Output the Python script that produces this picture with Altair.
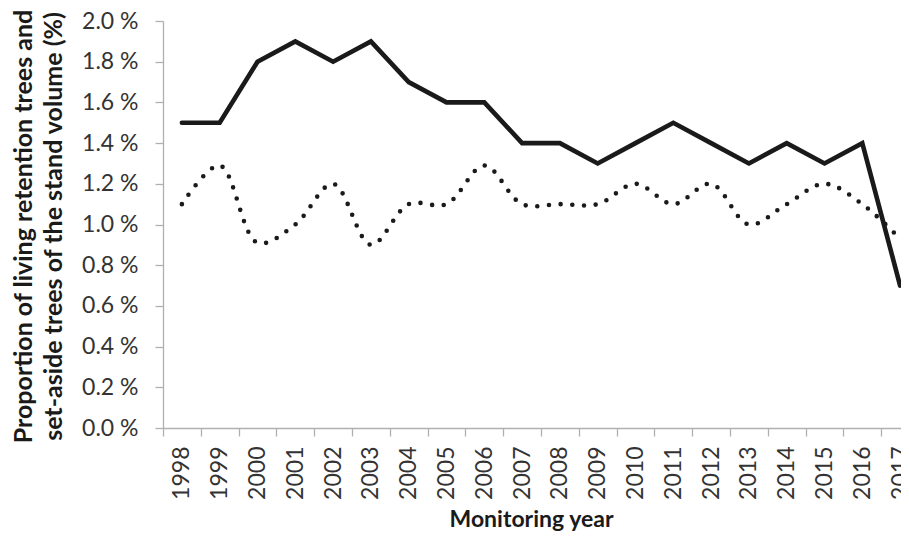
import altair as alt
import pandas as pd

years = ["1998", "1999", "2000", "2001", "2002", "2003", "2004", "2005", "2006", "2007",
         "2008", "2009", "2010", "2011", "2012", "2013", "2014", "2015", "2016", "2017"]
solid_values = [1.5, 1.5, 1.8, 1.9, 1.8, 1.9, 1.7, 1.6, 1.6, 1.4,
                1.4, 1.3, 1.4, 1.5, 1.4, 1.3, 1.4, 1.3, 1.4, 0.7]
dotted_values = [1.1, 1.29, 0.91, 1.0, 1.2, 0.9, 1.1, 1.1, 1.29, 1.1,
                 1.1, 1.1, 1.2, 1.1, 1.2, 1.0, 1.1, 1.2, 1.1, 0.93]
y_ticks = [0.0, 0.2, 0.4, 0.6, 0.8, 1.0, 1.2, 1.4, 1.6, 1.8, 2.0]

df = pd.DataFrame({"year": years, "solid": solid_values, "dotted": dotted_values})

AXIS_COLOR = "#b0b0b0"
LABEL_COLOR = "#333333"
TITLE_COLOR = "#1a1a1a"
FONT = "Lato"

x_enc = alt.X(
    "year:O",
    sort=years,
    bandPosition=0.5,
    scale=alt.Scale(type="band", range=[0, 756], paddingInner=0, paddingOuter=0),
    axis=alt.Axis(
        title="Monitoring year",
        labelAngle=-90,
        tickBand="extent",
        tickSize=8,
        tickColor=AXIS_COLOR,
        tickWidth=1.3,
        domainColor=AXIS_COLOR,
        domainWidth=1.3,
        labelFont=FONT,
        labelFontSize=23,
        labelColor=LABEL_COLOR,
        labelPadding=10,
        titleFont=FONT,
        titleFontSize=23,
        titleFontWeight="bold",
        titleColor=TITLE_COLOR,
        titleX=368,
        titleY=91,
        titleBaseline="middle",
        grid=False,
    ),
)

y_axis = alt.Axis(
    title=["Proportion of living retention trees and", "set-aside trees of the stand volume (%)"],
    values=y_ticks,
    labelExpr="format(datum.value, '.1f') + ' %'",
    tickSize=8,
    tickColor=AXIS_COLOR,
    tickWidth=1.3,
    domainColor=AXIS_COLOR,
    domainWidth=1.3,
    labelFont=FONT,
    labelFontSize=23,
    labelColor=LABEL_COLOR,
    labelPadding=17,
    titleFont=FONT,
    titleFontSize=25,
    titleFontWeight="bold",
    titleColor=TITLE_COLOR,
    titleX=-140,
    titleY=205,
    titleBaseline="middle",
    titleLineHeight=30,
    titleLimit=600,
    grid=False,
)

y_scale = alt.Scale(domain=[0, 2], nice=False, zero=True)

solid = alt.Chart(df).mark_line(
    color="#1a1a1a", strokeWidth=4.6, strokeCap="round", strokeJoin="miter"
).encode(
    x=x_enc,
    y=alt.Y("solid:Q", scale=y_scale, axis=y_axis),
)

dotted = alt.Chart(df).mark_line(
    color="#1a1a1a", strokeWidth=4.6, strokeCap="round",
    strokeDash=[0, 11.7], interpolate="catmull-rom"
).encode(
    x=x_enc,
    y=alt.Y("dotted:Q", scale=y_scale, axis=y_axis),
)

chart = alt.layer(solid, dotted).properties(
    width=738,
    height=407,
    autosize=alt.AutoSizeParams(type="none"),
    padding={"left": 155, "top": 13, "right": 0, "bottom": 106},
).configure_view(stroke=None)

chart.save("out.html", embed_options={"renderer": "svg", "actions": False})
